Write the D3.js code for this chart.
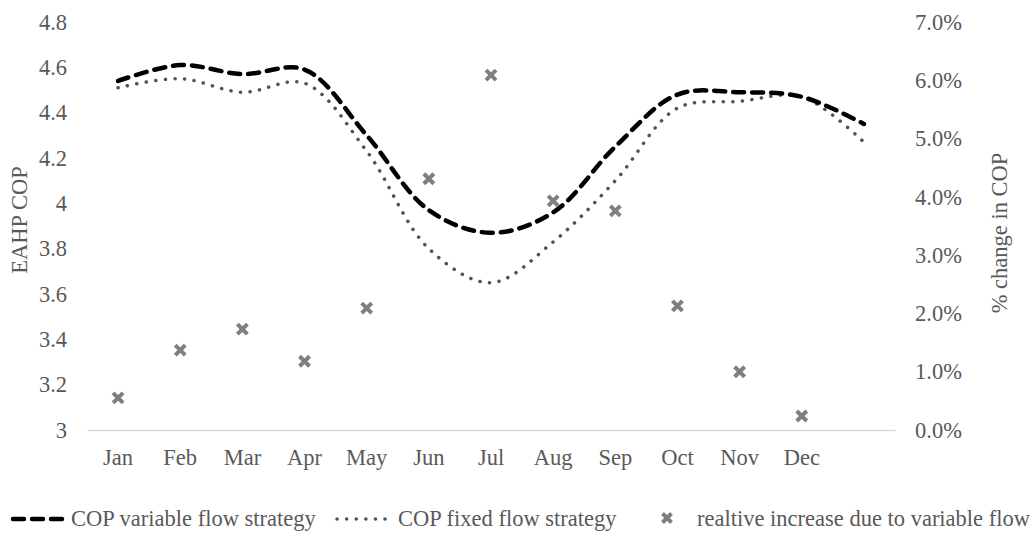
<!DOCTYPE html>
<html>
<head>
<meta charset="utf-8">
<script src="https://cdn.jsdelivr.net/npm/d3@7"></script>
<style>
  body { margin: 0; background: #fff; }
  svg text { font-family: "Liberation Serif", "Times New Roman", serif; fill: #595959; }
</style>
</head>
<body>
<svg id="chart" width="1036" height="533"></svg>
<script>
// Monthly categories (13th slot holds the closing point of the COP curves)
const months = ["Jan", "Feb", "Mar", "Apr", "May", "Jun", "Jul", "Aug", "Sep", "Oct", "Nov", "Dec", ""];
const slots = months.map((m, i) => i);

// EAHP COP, variable flow strategy
const copVariable = [4.54, 4.61, 4.57, 4.59, 4.30, 3.97, 3.87, 3.96, 4.25, 4.48, 4.49, 4.47, 4.35];
// EAHP COP, fixed flow strategy
const copFixed = [4.51, 4.55, 4.49, 4.53, 4.23, 3.80, 3.65, 3.83, 4.10, 4.42, 4.45, 4.47, 4.27];
// Relative increase due to variable flow (%)
const relIncrease = [0.55, 1.37, 1.73, 1.18, 2.09, 4.31, 6.09, 3.93, 3.76, 2.13, 1.00, 0.24];

const leftTicks = [3, 3.2, 3.4, 3.6, 3.8, 4, 4.2, 4.4, 4.6, 4.8];
const rightTicks = [0, 1, 2, 3, 4, 5, 6, 7];

const FS = 22.5;
const svg = d3.select("#chart");
const plot = { left: 87, right: 895, top: 22, bottom: 430 };

const x = d3.scaleBand().domain(slots).range([plot.left, plot.right]);
const yL = d3.scaleLinear().domain([3, 4.8]).range([plot.bottom, plot.top]);
const yR = d3.scaleLinear().domain([0, 7]).range([plot.bottom, plot.top]);
const cx = i => x(i) + x.bandwidth() / 2;

function styleTicks(g) {
  g.selectAll("text")
    .attr("font-size", FS)
    .style("font-family", "Liberation Serif")
    .attr("fill", "#595959");
}

// Category axis
const xAxis = svg.append("g")
  .attr("transform", `translate(0,${plot.bottom})`)
  .call(d3.axisBottom(x).tickSize(0).tickPadding(19).tickFormat(i => months[i]));
xAxis.select(".domain").attr("stroke", "#d9d9d9").attr("stroke-width", 1.5);
styleTicks(xAxis);

// Left value axis
const yAxisL = svg.append("g")
  .attr("transform", `translate(${plot.left},0)`)
  .call(d3.axisLeft(yL).tickValues(leftTicks).tickSize(0).tickPadding(20)
    .tickFormat(d => String(+d.toFixed(1))));
yAxisL.select(".domain").remove();
styleTicks(yAxisL);

// Right percentage axis
const yAxisR = svg.append("g")
  .attr("transform", `translate(${plot.right},0)`)
  .call(d3.axisRight(yR).tickValues(rightTicks).tickSize(0).tickPadding(20)
    .tickFormat(d => d.toFixed(1) + "%"));
yAxisR.select(".domain").remove();
styleTicks(yAxisR);

// Axis titles
svg.append("text")
  .attr("transform", "translate(27,220) rotate(-90)")
  .attr("text-anchor", "middle").attr("font-size", FS)
  .text("EAHP COP");
svg.append("text")
  .attr("transform", "translate(1007,233) rotate(-90)")
  .attr("text-anchor", "middle").attr("font-size", FS)
  .text("% change in COP");

// Smoothed COP curves
const line = d3.line()
  .x((d, i) => cx(i))
  .y(d => yL(d))
  .curve(d3.curveCatmullRom.alpha(0.5));

svg.append("path")
  .datum(copFixed)
  .attr("d", line)
  .attr("fill", "none")
  .attr("stroke", "#44546a")
  .attr("stroke-width", 3.5)
  .attr("stroke-linecap", "round")
  .attr("stroke-dasharray", "0.1 9.5");

svg.append("path")
  .datum(copVariable)
  .attr("d", line)
  .attr("fill", "none")
  .attr("stroke", "#000")
  .attr("stroke-width", 4.5)
  .attr("stroke-linecap", "round")
  .attr("stroke-dasharray", "11 8");

// Cross marker shape
function cross(sel, s) {
  sel.append("path")
    .attr("d", `M${-s},${-s}L${s},${s}M${-s},${s}L${s},${-s}`)
    .attr("stroke", "#7f7f7f")
    .attr("stroke-width", 4)
    .attr("stroke-linecap", "butt");
}

svg.append("g").selectAll("g")
  .data(relIncrease)
  .join("g")
  .attr("transform", (d, i) => `translate(${cx(i)},${yR(d)})`)
  .each(function () { cross(d3.select(this), 5); });

// Legend
const legY = 526;
svg.append("line")
  .attr("x1", 13).attr("x2", 64).attr("y1", legY - 7).attr("y2", legY - 7)
  .attr("stroke", "#000").attr("stroke-width", 4.5)
  .attr("stroke-linecap", "round").attr("stroke-dasharray", "11 8");
svg.append("text").attr("x", 71).attr("y", legY).attr("font-size", FS)
  .text("COP variable flow strategy");

svg.append("line")
  .attr("x1", 337).attr("x2", 392).attr("y1", legY - 7).attr("y2", legY - 7)
  .attr("stroke", "#44546a").attr("stroke-width", 3.5)
  .attr("stroke-linecap", "round").attr("stroke-dasharray", "0.1 9.5");
svg.append("text").attr("x", 398).attr("y", legY).attr("font-size", FS)
  .text("COP fixed flow strategy");

svg.append("g")
  .attr("transform", `translate(667,${legY - 8})`)
  .call(g => cross(g, 4.5));
svg.append("text").attr("x", 697).attr("y", legY).attr("font-size", FS)
  .text("realtive increase due to variable flow");
</script>
</body>
</html>
